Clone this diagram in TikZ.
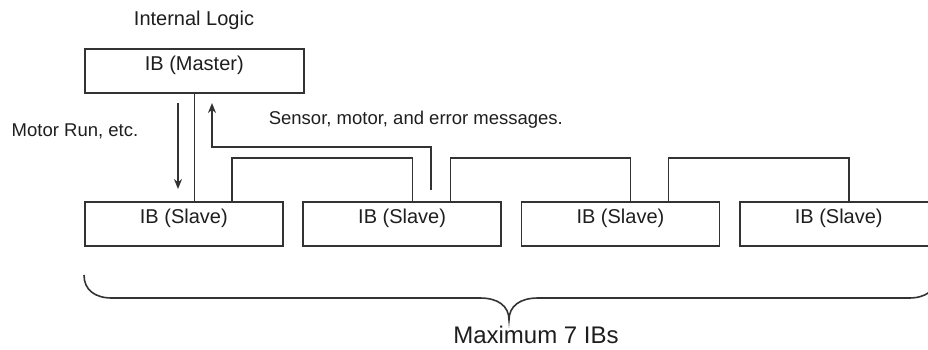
\documentclass[tikz,border=0pt]{standalone}
\usepackage{fontspec}
\setmainfont{Liberation Sans}
\usepackage{xcolor}
\usepackage{tikz}
\usetikzlibrary{arrows.meta,positioning,calc}
\definecolor{ibtrait}{HTML}{333333}
\definecolor{ibtexte}{HTML}{1E1E1E}

\begin{document}
\begin{tikzpicture}[x=1pt, y=-1pt, line width=1.6pt,
  every node/.style={text=ibtexte, inner sep=0pt},
  ibbox/.style={draw=ibtrait, anchor=north west, minimum height=44pt, text height=14pt, text depth=15pt, font=\fontsize{20}{24}\selectfont},
  fleche/.style={ibtrait, -{Stealth[length=10pt,width=8pt]}}]
  \clip (0,0) rectangle (928,349);
  % maitre
  \node[ibbox, minimum width=219pt] (master) at (84,48) {IB (Master)};
  \node[font=\fontsize{20}{24}\selectfont] (logic) at (194,20) {Internal Logic};
  % esclaves
  \foreach \i in {1,...,4} {
    \node[ibbox, minimum width=198pt] (s\i) at ({84+218.3*(\i-1)},201) {IB (Slave)};
  }
  % liaisons
  \draw[ibtrait] (master.south) -- (master.south |- s1.north);
  \foreach \i/\j in {1/2,2/3,3/4} {
    \draw[ibtrait] ($(s\i.north west)+(148,0)$) -- ++(0,-43) -| ($(s\j.north west)+(110,0)$);
  }
  % commande
  \coordinate (runA) at (178,103); \coordinate (runB) at (178,189);
  \draw[fleche] (runA) -- (runB);
  \node[anchor=east, font=\fontsize{18.5}{22}\selectfont] (run) at (139,131.5) {Motor Run, etc.};
  % retour
  \coordinate (retA) at (431,190); \coordinate (retB) at (212,103);
  \draw[fleche] (retA) -- ++(0,-43) -| (retB);
  \node[anchor=west, font=\fontsize{18.5}{22}\selectfont] (msg) at (268,120) {Sensor, motor, and error messages.};
  % accolade
  \draw[ibtrait] (84,275) .. controls (84,290) and (95,298) .. (112,298) -- (480,298)
    .. controls (498,298) and (509,306) .. (509,320)
    .. controls (509,306) and (520,298) .. (538,298) -- (909,298)
    .. controls (926,298) and (937,290) .. (937,275);
  \node[font=\fontsize{24}{28}\selectfont] (max) at (536,335) {Maximum 7 IBs};
\end{tikzpicture}
\end{document}
